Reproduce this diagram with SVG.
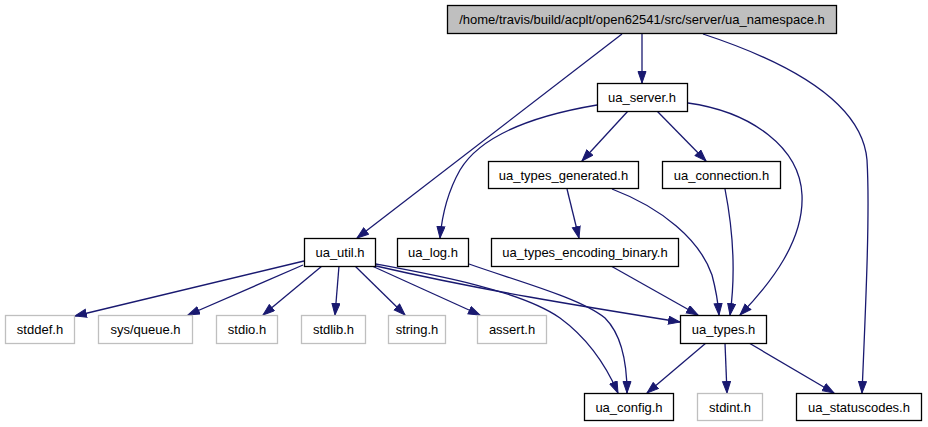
<svg xmlns="http://www.w3.org/2000/svg" width="928" height="427" viewBox="0 0 928 427">
<defs>
<marker id="ah" markerUnits="userSpaceOnUse" markerWidth="14" markerHeight="12" refX="12" refY="4.5" orient="auto">
<path d="M0.5,0.5 L12,4.5 L0.5,8.5 Z" fill="#191970" stroke="#191970" stroke-width="1"/>
</marker>
</defs>
<style>
.n rect{fill:#ffffff;stroke:#000000;stroke-width:1.3}
.g rect{fill:#ffffff;stroke:#bfbfbf;stroke-width:1.3}
.r rect{fill:#bfbfbf;stroke:#000000;stroke-width:1.3}
text{font-family:"Liberation Sans",Arial,sans-serif;font-size:13px;fill:#000000;text-anchor:middle}
#edges path{fill:none;stroke:#191970;stroke-width:1.3;marker-end:url(#ah)}
</style>
<g id="edges">
<path d="M622,34 L357,238"/>
<path d="M642,34 L642,83"/>
<path d="M703,34 C782,60 862,100 867,160 C870,210 866,300 862,393"/>
<path d="M628,111 L582,161"/>
<path d="M657,111 L706,161"/>
<path d="M597,105 C520,118 478,140 460,170 C447,193 442,215 440,238"/>
<path d="M688,103 C752,112 800,148 802,195 C804,240 772,282 740,315"/>
<path d="M567,189 L579,238"/>
<path d="M612,189 C662,208 700,240 712,275 C716,290 718,302 719,315"/>
<path d="M725,189 C733,230 736,272 730,315"/>
<path d="M611,266 L698,315"/>
<path d="M469,264 C520,282 580,298 605,318 C622,335 627,365 627,393"/>
<path d="M376,264 C430,274 520,290 560,318 C590,340 608,370 618,393"/>
<path d="M376,266 C480,290 580,306 680,322"/>
<path d="M304,261 L75,316"/>
<path d="M303,265 L188,315"/>
<path d="M322,266 L263,315"/>
<path d="M339,266 L335,315"/>
<path d="M355,266 L405,315"/>
<path d="M372,266 L480,315"/>
<path d="M706,343 L647,393"/>
<path d="M725,343 L727,393"/>
<path d="M749,343 L834,393"/>
</g>
<g id="root" class="r"><rect x="447.5" y="5.5" width="389" height="28"/><text x="642" y="24">/home/travis/build/acplt/open62541/src/server/ua_namespace.h</text></g>
<g id="ua_server" class="n"><rect x="597.5" y="83.5" width="90" height="28"/><text x="642" y="102">ua_server.h</text></g>
<g id="ua_types_generated" class="n"><rect x="488.5" y="161.5" width="150" height="27"/><text x="563.5" y="180">ua_types_generated.h</text></g>
<g id="ua_connection" class="n"><rect x="662.5" y="161.5" width="118" height="27"/><text x="721.5" y="180">ua_connection.h</text></g>
<g id="ua_util" class="n"><rect x="304.5" y="238.5" width="71" height="28"/><text x="340" y="257">ua_util.h</text></g>
<g id="ua_log" class="n"><rect x="397.5" y="238.5" width="71" height="28"/><text x="433" y="257">ua_log.h</text></g>
<g id="ua_types_encoding_binary" class="n"><rect x="491.5" y="238.5" width="187" height="28"/><text x="585" y="257">ua_types_encoding_binary.h</text></g>
<g id="stddef" class="g"><rect x="5.5" y="315.5" width="69" height="28"/><text x="40" y="334">stddef.h</text></g>
<g id="sys_queue" class="g"><rect x="98.5" y="315.5" width="94" height="28"/><text x="145.5" y="334">sys/queue.h</text></g>
<g id="stdio" class="g"><rect x="216.5" y="315.5" width="61" height="28"/><text x="247" y="334">stdio.h</text></g>
<g id="stdlib" class="g"><rect x="301.5" y="315.5" width="64" height="28"/><text x="333.5" y="334">stdlib.h</text></g>
<g id="string" class="g"><rect x="388.5" y="315.5" width="57" height="28"/><text x="417" y="334">string.h</text></g>
<g id="assert" class="g"><rect x="477.5" y="315.5" width="69" height="28"/><text x="512" y="334">assert.h</text></g>
<g id="ua_types" class="n"><rect x="680.5" y="315.5" width="86" height="28"/><text x="723.5" y="334">ua_types.h</text></g>
<g id="ua_config" class="n"><rect x="584.5" y="393.5" width="89" height="27"/><text x="629" y="412">ua_config.h</text></g>
<g id="stdint" class="g"><rect x="697.5" y="393.5" width="65" height="27"/><text x="730" y="412">stdint.h</text></g>
<g id="ua_statuscodes" class="n"><rect x="796.5" y="393.5" width="125" height="27"/><text x="859" y="412">ua_statuscodes.h</text></g>
</svg>
